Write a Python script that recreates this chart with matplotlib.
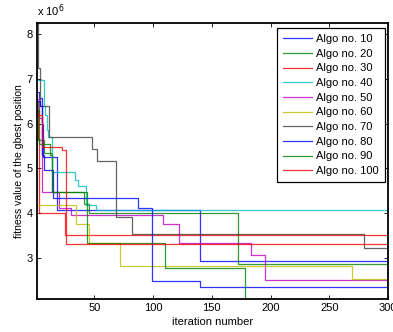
import matplotlib
matplotlib.use("Agg")
import matplotlib.pyplot as plt

# Fitness values in units of 1e6, as change points (iteration, value); step-post lines
labels = ["Algo no. 10", "Algo no. 20", "Algo no. 30", "Algo no. 40", "Algo no. 50",
          "Algo no. 60", "Algo no. 70", "Algo no. 80", "Algo no. 90", "Algo no. 100"]
colors = ["#0000ff", "#008000", "#ff0000", "#00bfbf", "#bf00bf",
          "#bfbf00", "#404040", "#0000ff", "#008000", "#ff0000"]

algo10_x = [1, 3, 5, 6, 18, 140, 300]
algo10_y = [6.71, 6.57, 6.00, 5.26, 4.07, 2.94, 2.94]

algo20_x = [1, 2, 7, 14, 41, 45, 172, 300]
algo20_y = [6.50, 5.63, 5.34, 4.48, 4.20, 4.00, 2.87, 2.87]

algo30_x = [1, 2, 3, 24.5, 300]
algo30_y = [6.27, 5.67, 4.01, 3.51, 3.51]

algo40_x = [1, 7, 8, 9.7, 10.3, 14, 33, 36, 43, 51, 300]
algo40_y = [6.97, 6.40, 6.20, 5.86, 5.71, 4.93, 4.75, 4.60, 4.18, 4.07, 4.07]

algo50_x = [1, 3, 5.4, 19.7, 30, 108, 122, 183, 195, 300]
algo50_y = [6.55, 6.12, 4.48, 4.11, 3.96, 3.76, 3.34, 3.07, 2.51, 2.51]

algo60_x = [1, 34, 45, 72, 269, 300]
algo60_y = [4.18, 3.77, 3.34, 2.83, 2.53, 2.53]

algo70_x = [1, 2, 4, 11, 48, 52, 68, 82, 280, 300]
algo70_y = [8.24, 7.24, 6.38, 5.71, 5.43, 5.17, 3.92, 3.53, 3.22, 3.22]

algo80_x = [1, 4, 5.5, 7, 15, 87, 99.4, 140, 300]
algo80_y = [6.50, 6.40, 5.30, 4.96, 4.33, 4.11, 2.49, 2.36, 2.36]

algo90_x = [1, 3, 12, 14, 44, 110, 178, 300]
algo90_y = [6.30, 5.55, 5.30, 4.48, 3.34, 2.78, 2.09, 2.09]

algo100_x = [1, 5, 22.5, 26, 300]
algo100_y = [6.20, 5.48, 5.41, 3.31, 3.31]

series_x = [algo10_x, algo20_x, algo30_x, algo40_x, algo50_x,
            algo60_x, algo70_x, algo80_x, algo90_x, algo100_x]
series_y = [algo10_y, algo20_y, algo30_y, algo40_y, algo50_y,
            algo60_y, algo70_y, algo80_y, algo90_y, algo100_y]

x_ticks = [50, 100, 150, 200, 250, 300]
y_ticks = [3, 4, 5, 6, 7, 8]

plt.rcParams['font.family'] = ['Liberation Sans', 'DejaVu Sans']

fig = plt.figure(figsize=(3.93, 3.32), dpi=100)
ax = fig.add_axes([0.094, 0.0994, 0.893, 0.8313])

for xs, ys, c, lab in zip(series_x, series_y, colors, labels):
    ax.plot(xs, ys, drawstyle='steps-post', color=c, lw=0.9, alpha=0.8, label=lab)

ax.set_xlim(1, 300)
ax.set_ylim(2.09, 8.24)
ax.set_xticks(x_ticks)
ax.set_yticks(y_ticks)
ax.set_xticklabels([str(v) for v in x_ticks])
ax.set_yticklabels([str(v) for v in y_ticks])
ax.tick_params(direction='in', top=True, right=True, labelsize=8, length=3,
               width=0.6, pad=3)
for s in ax.spines.values():
    s.set_linewidth(1.3)

ax.text(0.0, 1.015, r'x 10$^6$', transform=ax.transAxes, fontsize=8,
        ha='left', va='bottom')
ax.set_xlabel('iteration number', fontsize=8, labelpad=3)
ax.set_ylabel('fitness value of the gbest position', fontsize=7.5, labelpad=2)

leg = ax.legend(loc='upper right', bbox_to_anchor=(0.992, 0.982), fontsize=8,
                frameon=True, fancybox=False, edgecolor='black', framealpha=1,
                borderpad=0.55, labelspacing=0.42, handlelength=2.6,
                handletextpad=0.4, borderaxespad=0)
leg.get_frame().set_linewidth(0.9)

fig.savefig('out.png', dpi=100)
